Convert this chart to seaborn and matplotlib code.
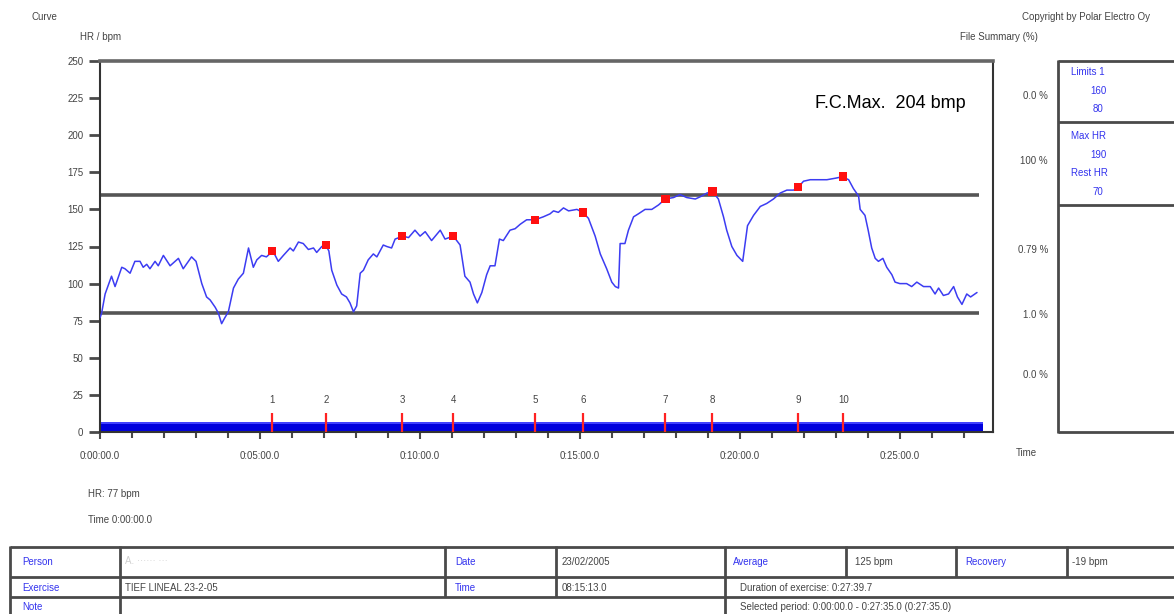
import matplotlib
matplotlib.use("Agg")
import matplotlib.pyplot as plt
from matplotlib.ticker import FuncFormatter, MultipleLocator
import seaborn as sns
import pandas as pd

# heart-rate curve (minutes since start, bpm)
time_min = [
    0.0, 0.05, 0.16, 0.36, 0.47, 0.68, 0.78, 0.94, 1.09, 1.25,
    1.35, 1.46, 1.56, 1.72, 1.82, 1.98, 2.19, 2.45, 2.6, 2.86,
    3.0, 3.18, 3.33, 3.44, 3.6, 3.7, 3.8, 3.9, 4.01, 4.17,
    4.32, 4.48, 4.64, 4.79, 4.9, 5.05, 5.2, 5.4, 5.57, 5.73,
    5.94, 6.04, 6.2, 6.35, 6.51, 6.67, 6.77, 6.93, 7.05, 7.15,
    7.24, 7.4, 7.55, 7.7, 7.81, 7.92, 8.02, 8.13, 8.23, 8.38,
    8.54, 8.65, 8.85, 8.96, 9.11, 9.22, 9.46, 9.64, 9.84, 10.0,
    10.16, 10.36, 10.63, 10.78, 11.04, 11.25, 11.4, 11.56, 11.67, 11.79,
    11.93, 12.08, 12.19, 12.34, 12.48, 12.6, 12.81, 12.97, 13.13, 13.33,
    13.59, 13.85, 14.06, 14.17, 14.32, 14.48, 14.64, 14.9, 15.08, 15.26,
    15.47, 15.63, 15.83, 15.99, 16.1, 16.2, 16.25, 16.4, 16.51, 16.67,
    16.82, 17.03, 17.24, 17.45, 17.66, 17.92, 18.12, 18.33, 18.6, 18.8,
    18.96, 19.14, 19.32, 19.48, 19.58, 19.74, 19.9, 20.08, 20.23, 20.42,
    20.63, 20.83, 21.04, 21.25, 21.46, 21.67, 21.82, 21.98, 22.19, 22.4,
    22.71, 22.97, 23.2, 23.39, 23.54, 23.7, 23.75, 23.9, 24.0, 24.11,
    24.22, 24.32, 24.46, 24.58, 24.74, 24.84, 24.99, 25.2, 25.36, 25.52,
    25.73, 25.94, 26.09, 26.2, 26.35, 26.51, 26.67, 26.79, 26.93, 27.08,
    27.2, 27.4,
]
hr_bpm = [
    77, 80, 93, 105, 98, 111, 110, 107, 115, 115,
    111, 113, 110, 115, 112, 119, 112, 117, 110, 118,
    115, 100, 91, 89, 84, 80, 73, 77, 81, 97,
    103, 107, 124, 111, 116, 119, 118, 122, 115, 119,
    124, 122, 128, 127, 123, 124, 121, 125, 126, 122,
    109, 99, 93, 91, 87, 81, 85, 107, 109, 116,
    120, 118, 126, 125, 124, 130, 132, 131, 136, 132,
    135, 129, 136, 130, 132, 126, 105, 101, 93, 87,
    94, 106, 112, 112, 130, 129, 136, 137, 140, 143,
    143, 145, 147, 149, 148, 151, 149, 150, 148, 144,
    132, 120, 110, 101, 98, 97, 127, 127, 136, 145,
    147, 150, 150, 153, 157, 158, 160, 158, 157, 159,
    161, 162, 157, 145, 136, 125, 119, 115, 139, 146,
    152, 154, 157, 161, 163, 163, 165, 169, 170, 170,
    170, 171, 172, 170, 164, 159, 150, 146, 136, 124,
    117, 115, 117, 111, 106, 101, 100, 100, 98, 101,
    98, 98, 93, 97, 92, 93, 98, 91, 86, 93,
    91, 94,
]

# laps
lap_time = [5.38, 7.06, 9.44, 11.03, 13.59, 15.09, 17.66, 19.13, 21.81, 23.22]
lap_hr = [122, 126, 132, 132, 143, 148, 157, 162, 165, 172]
lap_labels = ["1", "2", "3", "4", "5", "6", "7", "8", "9", "10"]

limit_upper = 160
limit_lower = 80
session_end = 27.583  # 0:27:35.0
y_ticks = list(range(0, 251, 25))

zone_pct = ["0.0 %", "100 %", "0.79 %", "1.0 %", "0.0 %"]
summary_labels = ["Limits 1", "160", "80", "Max HR", "190", "Rest HR", "70"]

W, H = 1174, 614
FONT = ["Liberation Sans Narrow", "Liberation Sans", "DejaVu Sans"]
GREY = "#444444"
BLUE = "#3333ee"
LINE = "#4a4a4a"

sns.set_style("white")
plt.rcParams["font.family"] = FONT

fig = plt.figure(figsize=(W / 100, H / 100), dpi=100)

# background layer in pixel coords for the report furniture
bg = fig.add_axes([0, 0, 1, 1])
bg.set_xlim(0, W)
bg.set_ylim(H, 0)
bg.axis("off")


def txt(x, y, s, size=7, color=GREY, ha="left", **kw):
    bg.text(x, y, s, fontsize=size, color=color, ha=ha, va="center", **kw)


def hline(y, x0, x1, lw=2.0):
    bg.plot([x0, x1], [y, y], color=LINE, lw=lw, solid_capstyle="butt")


def vline(x, y0, y1, lw=2.0):
    bg.plot([x, x], [y0, y1], color=LINE, lw=lw, solid_capstyle="butt")


txt(31, 17, "Curve")
txt(80, 37, "HR / bpm")
txt(1022, 17, "Copyright by Polar Electro Oy")
txt(960, 37, "File Summary (%)")
txt(1016, 453, "Time")
txt(88, 494, "HR: 77 bpm")
txt(88, 520, "Time 0:00:00.0")

# file summary panel
hline(61, 1058, W + 5)
hline(122, 1058, W + 5)
hline(205, 1058, W + 5)
hline(432, 1058, W + 5)
vline(1058, 60, 433)
for s, y in zip(zone_pct, [96, 161, 250, 315, 375]):
    txt(1048, y, s, ha="right")
for s, x, y in zip(summary_labels,
                   [1071, 1098, 1098, 1071, 1098, 1071, 1098],
                   [72, 91, 109, 136, 155, 173, 192]):
    txt(x, y, s, color=BLUE, ha="left" if x < 1080 else "center")

# bottom table
for y in (547, 577, 597):
    hline(y, 10, W + 5)
vline(10, 546, H)
vline(120, 546, H)
vline(725, 546, H)
for x in (445, 556):
    vline(x, 546, 597)
for x in (846, 956, 1067):
    vline(x, 546, 577)

txt(22, 562, "Person", color=BLUE)
txt(125, 561, "A. ······ ···", color="#cfcfcf")
txt(455, 562, "Date", color=BLUE)
txt(562, 562, "23/02/2005")
txt(733, 562, "Average", color=BLUE)
txt(855, 562, "125 bpm")
txt(965, 562, "Recovery", color=BLUE)
txt(1072, 562, "-19 bpm")
txt(22, 588, "Exercise", color=BLUE)
txt(125, 588, "TIEF LINEAL 23-2-05")
txt(455, 588, "Time", color=BLUE)
txt(562, 588, "08:15:13.0")
txt(740, 588, "Duration of exercise: 0:27:39.7")
txt(22, 607, "Note", color=BLUE)
txt(740, 607, "Selected period: 0:00:00.0 - 0:27:35.0 (0:27:35.0)")

# F.C. max label, big and black
txt(815, 104, "F.C.Max.  204 bmp", size=13, color="black")

# main HR chart
ax = fig.add_axes([100 / W, (H - 432) / H, 893 / W, 371 / H])
ax.patch.set_alpha(0)
df = pd.DataFrame({"t": time_min, "hr": hr_bpm})
sns.lineplot(data=df, x="t", y="hr", ax=ax, color="#3c3cf2", lw=1.1,
             sort=False, estimator=None, zorder=3)
ax.fill_between([0, session_end], 0, 7, color="#0000dd", lw=0, zorder=2)
ax.fill_between([0, session_end], 5.5, 7, color="#4040ff", lw=0, zorder=2)
ax.hlines([limit_upper, limit_lower], 0, 27.45, color="#555555", lw=2.6, zorder=2)
ax.vlines(lap_time, 0, 13, color="#ff2222", lw=1.6, zorder=4)
for t, lab in zip(lap_time, lap_labels):
    ax.text(t, 21.5, lab, ha="center", va="center", fontsize=7, color=GREY)
sns.scatterplot(x=lap_time, y=lap_hr, ax=ax, marker="s", s=38, color="#ff1010",
                edgecolor="none", zorder=5)

ax.set_xlim(0, 27.9)
ax.set_ylim(0, 250)
ax.set_yticks(y_ticks)
ax.xaxis.set_major_locator(MultipleLocator(5))
ax.xaxis.set_minor_locator(MultipleLocator(1))
ax.xaxis.set_major_formatter(FuncFormatter(lambda v, p: f"0:{int(round(v)):02d}:00.0"))
ax.set_xlabel("")
ax.set_ylabel("")
ax.tick_params(axis="y", direction="out", length=8, width=2, color=LINE,
               labelsize=7, labelcolor=GREY, pad=4, left=True)
ax.tick_params(axis="x", which="major", direction="out", length=5, width=1.5,
               color=LINE, labelsize=7, labelcolor=GREY, pad=9, bottom=True)
ax.tick_params(axis="x", which="minor", direction="out", length=4, width=1.5,
               color=LINE, bottom=True)
for side in ("left", "bottom", "right"):
    ax.spines[side].set_color("#333333")
    ax.spines[side].set_linewidth(1.5)
ax.spines["top"].set_color("#666666")
ax.spines["top"].set_linewidth(2.6)

fig.savefig("out.png", dpi=100)
plt.close(fig)
